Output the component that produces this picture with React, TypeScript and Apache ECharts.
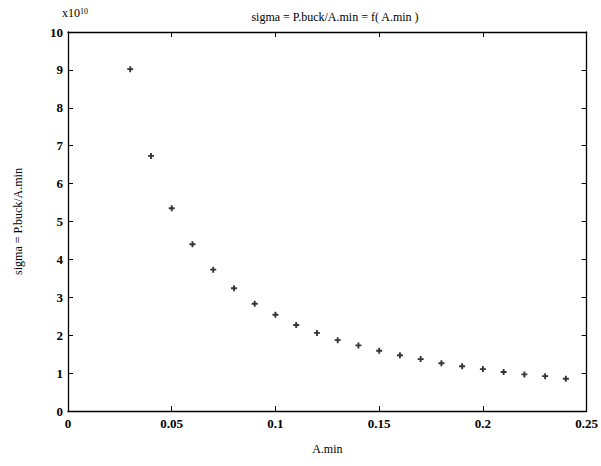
import React, { useEffect, useRef } from "react";
import * as echarts from "echarts";

const aMin = [0.03, 0.04, 0.05, 0.06, 0.07, 0.08, 0.09, 0.10, 0.11, 0.12, 0.13, 0.14, 0.15, 0.16, 0.17, 0.18, 0.19, 0.20, 0.21, 0.22, 0.23, 0.24];
const sigma = [9.02, 6.73, 5.35, 4.40, 3.73, 3.24, 2.83, 2.54, 2.27, 2.06, 1.87, 1.73, 1.59, 1.47, 1.37, 1.26, 1.18, 1.105, 1.03, 0.965, 0.92, 0.85];
const xTicks = ["0", "0.05", "0.1", "0.15", "0.2", "0.25"];
const titleText = "sigma = P.buck/A.min = f( A.min )";
const yName = "sigma = P.buck/A.min";
const xName = "A.min";

const FONT = "'Liberation Serif', 'DejaVu Serif', serif";
const PLUS = "path://M-1,-3.2H1V-1H3.2V1H1V3.2H-1V1H-3.2V-1H-1Z";

export default function App() {
  const ref = useRef<HTMLDivElement>(null);
  useEffect(() => {
    document.body.style.margin = "0";
    const chart = echarts.init(ref.current!, null, { renderer: "svg" });
    const axisLine = { show: true, onZero: false, lineStyle: { color: "#000", width: 1.3 } };
    const tick = { show: true, inside: true, length: 5, lineStyle: { color: "#000", width: 1 } };
    chart.setOption({
      animation: false,
      backgroundColor: "#fff",
      title: {
        text: titleText,
        left: 330,
        top: 6,
        textAlign: "center",
        textStyle: { fontFamily: FONT, fontSize: 12, fontWeight: "normal", color: "#000" },
      },
      graphic: [
        {
          type: "text",
          left: 62,
          top: 7,
          style: {
            text: "{a|x10}{b|10}",
            rich: {
              a: { fontFamily: FONT, fontSize: 12, fill: "#000", verticalAlign: "bottom" },
              b: { fontFamily: FONT, fontSize: 8, fill: "#000", verticalAlign: "top", padding: [0, 0, 4, 0] },
            },
          },
        },
      ],
      grid: { left: 68, right: 10, top: 32, bottom: 55, containLabel: false },
      xAxis: [
        {
          type: "value",
          min: 0,
          max: 0.25,
          interval: 0.05,
          position: "bottom",
          axisLine,
          axisTick: tick,
          splitLine: { show: false },
          axisLabel: {
            fontFamily: FONT,
            fontSize: 13,
            fontWeight: "bold",
            color: "#000",
            margin: 6,
            formatter: (v: number) => xTicks[Math.round(v / 0.05)] ?? "",
          },
          name: xName,
          nameLocation: "middle",
          nameGap: 32,
          nameTextStyle: { fontFamily: FONT, fontSize: 12, color: "#000" },
        },
        {
          type: "value",
          min: 0,
          max: 0.25,
          interval: 0.05,
          position: "top",
          axisLine,
          axisTick: tick,
          splitLine: { show: false },
          axisLabel: { show: false },
        },
      ],
      yAxis: [
        {
          type: "value",
          min: 0,
          max: 10,
          interval: 1,
          position: "left",
          axisLine,
          axisTick: tick,
          splitLine: { show: false },
          axisLabel: { fontFamily: FONT, fontSize: 13, fontWeight: "bold", color: "#000", margin: 5 },
          name: yName,
          nameLocation: "middle",
          nameGap: 44,
          nameTextStyle: { fontFamily: FONT, fontSize: 12, color: "#000" },
        },
        {
          type: "value",
          min: 0,
          max: 10,
          interval: 1,
          position: "right",
          axisLine,
          axisTick: tick,
          splitLine: { show: false },
          axisLabel: { show: false },
        },
      ],
      series: [
        {
          type: "scatter",
          xAxisIndex: 0,
          yAxisIndex: 0,
          symbol: PLUS,
          symbolSize: 6,
          itemStyle: { color: "#000" },
          data: aMin.map((x, i) => [x, sigma[i]]),
        },
      ],
    });
    return () => chart.dispose();
  }, []);
  return <div ref={ref} style={{ width: 601, height: 466 }} />;
}
